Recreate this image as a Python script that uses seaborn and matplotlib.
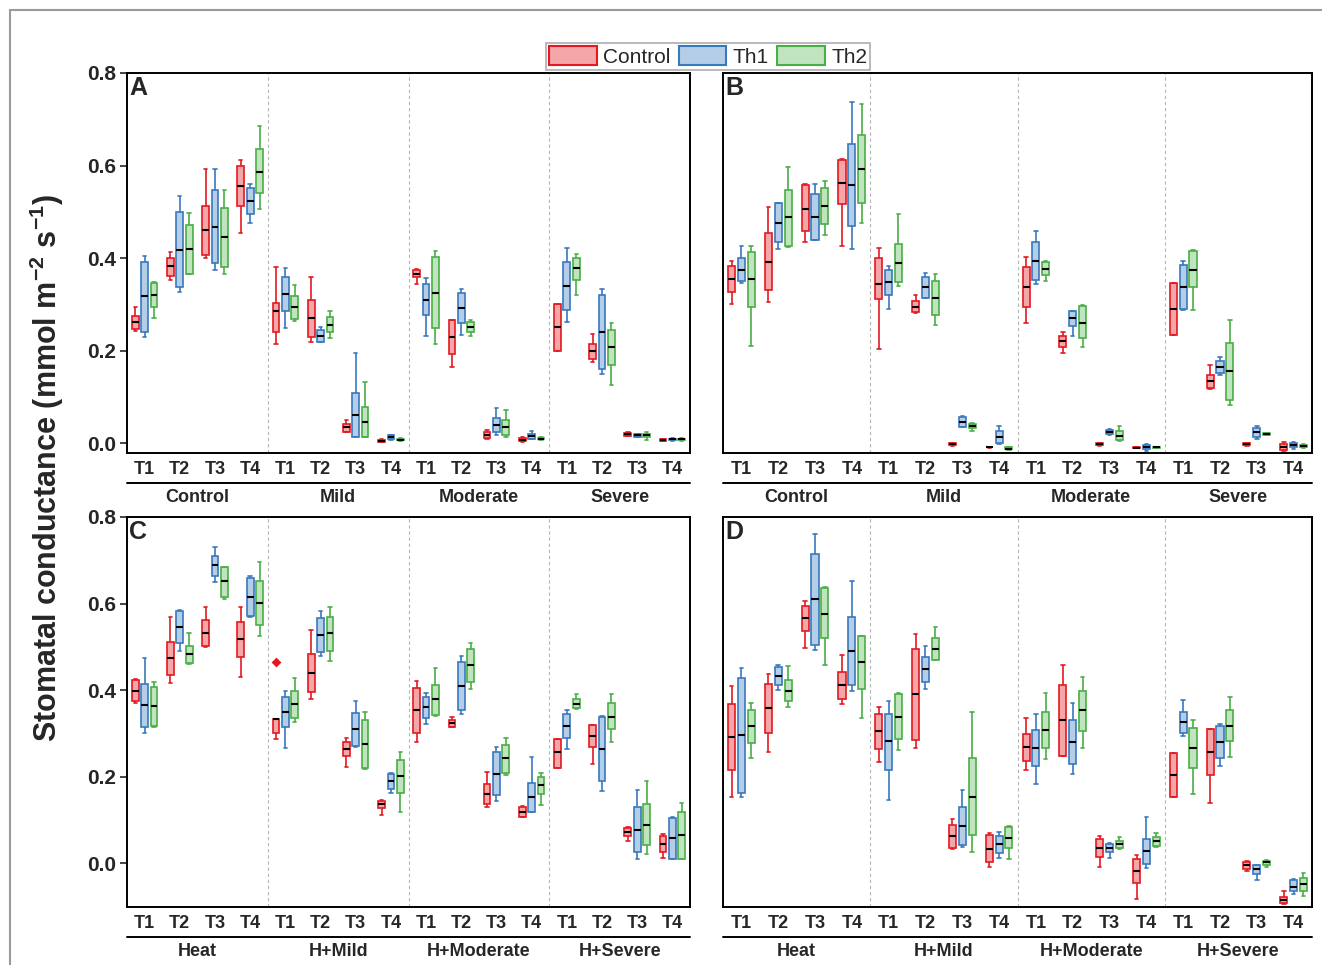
import numpy as np
import pandas as pd
import matplotlib
matplotlib.use("Agg")
import matplotlib.pyplot as plt
from matplotlib import transforms
from matplotlib.patches import Patch, Rectangle
import seaborn as sns

sns.set_theme(style="white")
plt.rcParams["font.family"] = ["Liberation Sans", "DejaVu Sans"]
plt.rcParams["mathtext.fontset"] = "custom"
plt.rcParams["mathtext.rm"] = "Liberation Sans:bold"
plt.rcParams["mathtext.bf"] = "Liberation Sans:bold"
plt.rcParams["mathtext.default"] = "bf"

# ---------------------------------------------------------------- categories
stress_top = ["Control", "Mild", "Moderate", "Severe"]
stress_bottom = ["Heat", "H+Mild", "H+Moderate", "H+Severe"]
times = ["T1", "T2", "T3", "T4"]
series = ["Control", "Th1", "Th2"]

edge_colors = {"Control": "#E4191F", "Th1": "#3878BD", "Th2": "#4AAE47"}
fill_colors = {"Control": "#F4A6A8", "Th1": "#B5CEE7", "Th2": "#C0E4BD"}

# --------------------------------------------------------- box summaries
# each row: [lower whisker, Q1, median, Q3, upper whisker]
# rows follow stress level (4) x sampling time (T1..T4)
gs_A_control = [
    [0.243, 0.246, 0.261, 0.274, 0.293], [0.353, 0.362, 0.382, 0.400, 0.412],
    [0.399, 0.406, 0.461, 0.513, 0.592], [0.454, 0.512, 0.556, 0.600, 0.612],
    [0.213, 0.239, 0.285, 0.303, 0.380], [0.218, 0.229, 0.270, 0.310, 0.359],
    [0.023, 0.024, 0.035, 0.042, 0.050], [0.002, 0.003, 0.005, 0.007, 0.009],
    [0.344, 0.359, 0.366, 0.373, 0.376], [0.164, 0.192, 0.229, 0.265, 0.267],
    [0.009, 0.011, 0.018, 0.023, 0.029], [0.003, 0.004, 0.007, 0.010, 0.014],
    [0.200, 0.200, 0.250, 0.301, 0.301], [0.176, 0.182, 0.198, 0.215, 0.236],
    [0.015, 0.016, 0.019, 0.022, 0.024], [0.004, 0.004, 0.006, 0.009, 0.009],
]
gs_A_th1 = [
    [0.229, 0.241, 0.317, 0.391, 0.405], [0.326, 0.337, 0.418, 0.500, 0.533],
    [0.373, 0.389, 0.468, 0.546, 0.593], [0.476, 0.495, 0.523, 0.551, 0.560],
    [0.249, 0.285, 0.323, 0.360, 0.378], [0.218, 0.218, 0.232, 0.244, 0.250],
    [0.013, 0.014, 0.061, 0.108, 0.195], [0.007, 0.009, 0.013, 0.017, 0.018],
    [0.232, 0.277, 0.310, 0.344, 0.357], [0.234, 0.259, 0.291, 0.324, 0.332],
    [0.018, 0.023, 0.039, 0.054, 0.075], [0.009, 0.009, 0.016, 0.020, 0.025],
    [0.261, 0.288, 0.340, 0.391, 0.422], [0.150, 0.160, 0.241, 0.321, 0.334],
    [0.014, 0.014, 0.017, 0.019, 0.019], [0.005, 0.006, 0.008, 0.009, 0.010],
]
gs_A_th2 = [
    [0.270, 0.293, 0.321, 0.346, 0.348], [0.366, 0.366, 0.419, 0.471, 0.497],
    [0.366, 0.381, 0.445, 0.508, 0.546], [0.506, 0.541, 0.587, 0.635, 0.685],
    [0.264, 0.269, 0.294, 0.318, 0.342], [0.226, 0.240, 0.256, 0.272, 0.285],
    [0.013, 0.014, 0.045, 0.078, 0.131], [0.005, 0.006, 0.007, 0.009, 0.010],
    [0.213, 0.249, 0.324, 0.402, 0.415], [0.231, 0.240, 0.251, 0.262, 0.265],
    [0.014, 0.018, 0.035, 0.050, 0.071], [0.007, 0.008, 0.009, 0.011, 0.012],
    [0.319, 0.353, 0.378, 0.401, 0.409], [0.126, 0.169, 0.207, 0.244, 0.259],
    [0.006, 0.012, 0.017, 0.020, 0.023], [0.005, 0.006, 0.008, 0.009, 0.010],
]

gs_B_control = [
    [0.300, 0.327, 0.355, 0.383, 0.394], [0.304, 0.331, 0.392, 0.453, 0.510],
    [0.434, 0.458, 0.507, 0.558, 0.561], [0.426, 0.516, 0.563, 0.612, 0.614],
    [0.203, 0.311, 0.344, 0.401, 0.422], [0.282, 0.284, 0.295, 0.306, 0.321],
    [-0.006, -0.005, -0.003, 0.000, 0.001], [-0.010, -0.009, -0.009, -0.008, -0.008],
    [0.260, 0.293, 0.338, 0.381, 0.403], [0.194, 0.208, 0.221, 0.232, 0.240],
    [-0.006, -0.005, -0.003, 0.000, 0.001], [-0.011, -0.010, -0.010, -0.009, -0.009],
    [0.233, 0.233, 0.290, 0.347, 0.347], [0.117, 0.118, 0.134, 0.148, 0.169],
    [-0.006, -0.005, -0.003, -0.001, -0.001], [-0.017, -0.015, -0.009, -0.002, 0.003],
]
gs_B_th1 = [
    [0.345, 0.350, 0.375, 0.399, 0.425], [0.419, 0.434, 0.476, 0.518, 0.520],
    [0.439, 0.440, 0.489, 0.538, 0.560], [0.419, 0.470, 0.558, 0.647, 0.737],
    [0.289, 0.321, 0.348, 0.374, 0.383], [0.313, 0.314, 0.337, 0.360, 0.367],
    [0.034, 0.035, 0.046, 0.057, 0.059], [-0.002, -0.001, 0.012, 0.025, 0.037],
    [0.343, 0.352, 0.394, 0.435, 0.459], [0.232, 0.252, 0.270, 0.286, 0.286],
    [0.017, 0.019, 0.024, 0.028, 0.030], [-0.017, -0.012, -0.008, -0.004, -0.002],
    [0.288, 0.290, 0.338, 0.385, 0.394], [0.148, 0.151, 0.165, 0.178, 0.185],
    [0.009, 0.014, 0.024, 0.032, 0.037], [-0.013, -0.008, -0.004, -0.001, 0.003],
]
gs_B_th2 = [
    [0.210, 0.295, 0.355, 0.412, 0.427], [0.423, 0.425, 0.488, 0.548, 0.597],
    [0.450, 0.473, 0.512, 0.552, 0.567], [0.476, 0.520, 0.593, 0.666, 0.734],
    [0.339, 0.349, 0.390, 0.430, 0.495], [0.255, 0.277, 0.314, 0.351, 0.365],
    [0.027, 0.032, 0.037, 0.041, 0.043], [-0.015, -0.014, -0.012, -0.009, -0.009],
    [0.351, 0.363, 0.377, 0.391, 0.393], [0.208, 0.226, 0.260, 0.297, 0.298],
    [0.005, 0.006, 0.015, 0.025, 0.037], [-0.011, -0.011, -0.009, -0.008, -0.008],
    [0.288, 0.337, 0.375, 0.416, 0.417], [0.082, 0.094, 0.156, 0.217, 0.266],
    [0.017, 0.017, 0.019, 0.021, 0.021], [-0.011, -0.009, -0.006, -0.004, -0.002],
]

gs_C_control = [
    [0.371, 0.375, 0.399, 0.423, 0.426], [0.417, 0.435, 0.474, 0.512, 0.568],
    [0.499, 0.503, 0.533, 0.562, 0.591], [0.431, 0.476, 0.517, 0.558, 0.593],
    [0.287, 0.302, 0.334, 0.334, 0.334], [0.380, 0.395, 0.439, 0.483, 0.539],
    [0.223, 0.247, 0.265, 0.281, 0.290], [0.112, 0.127, 0.136, 0.144, 0.147],
    [0.281, 0.302, 0.353, 0.405, 0.422], [0.314, 0.316, 0.323, 0.331, 0.337],
    [0.129, 0.137, 0.160, 0.184, 0.212], [0.106, 0.108, 0.119, 0.131, 0.133],
    [0.221, 0.221, 0.256, 0.288, 0.288], [0.229, 0.269, 0.295, 0.320, 0.320],
    [0.052, 0.062, 0.072, 0.081, 0.083], [0.012, 0.025, 0.044, 0.062, 0.067],
]
gs_C_th1 = [
    [0.302, 0.316, 0.366, 0.415, 0.475], [0.491, 0.510, 0.547, 0.583, 0.585],
    [0.650, 0.664, 0.688, 0.711, 0.731], [0.570, 0.572, 0.616, 0.658, 0.664],
    [0.267, 0.315, 0.350, 0.385, 0.399], [0.479, 0.488, 0.527, 0.566, 0.583],
    [0.269, 0.270, 0.310, 0.348, 0.375], [0.163, 0.172, 0.189, 0.206, 0.209],
    [0.322, 0.336, 0.360, 0.383, 0.394], [0.346, 0.354, 0.410, 0.464, 0.479],
    [0.145, 0.157, 0.206, 0.256, 0.268], [0.118, 0.119, 0.154, 0.186, 0.246],
    [0.263, 0.290, 0.317, 0.344, 0.353], [0.168, 0.191, 0.265, 0.339, 0.340],
    [0.011, 0.025, 0.077, 0.129, 0.169], [0.010, 0.010, 0.058, 0.105, 0.108],
]
gs_C_th2 = [
    [0.316, 0.317, 0.363, 0.407, 0.419], [0.460, 0.462, 0.484, 0.503, 0.531],
    [0.611, 0.616, 0.651, 0.685, 0.685], [0.525, 0.551, 0.602, 0.653, 0.695],
    [0.327, 0.336, 0.368, 0.399, 0.429], [0.468, 0.491, 0.531, 0.570, 0.591],
    [0.218, 0.219, 0.276, 0.331, 0.349], [0.119, 0.163, 0.202, 0.238, 0.256],
    [0.341, 0.343, 0.379, 0.412, 0.450], [0.403, 0.418, 0.457, 0.496, 0.510],
    [0.203, 0.209, 0.243, 0.274, 0.290], [0.134, 0.160, 0.180, 0.200, 0.208],
    [0.356, 0.358, 0.369, 0.380, 0.390], [0.280, 0.310, 0.339, 0.370, 0.392],
    [0.021, 0.042, 0.089, 0.136, 0.189], [0.010, 0.010, 0.065, 0.119, 0.139],
]
# single outlying measurement: (stress level, time, series, value)
C_outlier = ("H+Mild", "T1", "Control", 0.465)

gs_D_control = [
    [0.152, 0.216, 0.291, 0.367, 0.410], [0.256, 0.300, 0.358, 0.415, 0.437],
    [0.497, 0.537, 0.567, 0.595, 0.607], [0.367, 0.380, 0.412, 0.443, 0.481],
    [0.234, 0.263, 0.305, 0.346, 0.361], [0.266, 0.285, 0.390, 0.494, 0.530],
    [0.033, 0.035, 0.062, 0.089, 0.103], [-0.008, 0.002, 0.033, 0.065, 0.069],
    [0.216, 0.237, 0.268, 0.298, 0.335], [0.249, 0.249, 0.331, 0.413, 0.457],
    [-0.008, 0.015, 0.036, 0.055, 0.062], [-0.082, -0.046, -0.018, 0.009, 0.018],
    [0.152, 0.152, 0.204, 0.254, 0.254], [0.140, 0.203, 0.256, 0.310, 0.311],
    [-0.018, -0.014, -0.005, 0.003, 0.005], [-0.095, -0.092, -0.084, -0.077, -0.065],
]
gs_D_th1 = [
    [0.152, 0.162, 0.296, 0.427, 0.452], [0.400, 0.412, 0.433, 0.454, 0.458],
    [0.493, 0.504, 0.610, 0.715, 0.761], [0.397, 0.413, 0.491, 0.570, 0.653],
    [0.146, 0.216, 0.282, 0.346, 0.374], [0.403, 0.419, 0.448, 0.476, 0.503],
    [0.038, 0.042, 0.086, 0.129, 0.169], [0.012, 0.023, 0.044, 0.064, 0.073],
    [0.183, 0.224, 0.266, 0.308, 0.345], [0.206, 0.229, 0.280, 0.331, 0.370],
    [0.013, 0.025, 0.035, 0.044, 0.046], [-0.010, -0.002, 0.028, 0.056, 0.108],
    [0.295, 0.300, 0.326, 0.350, 0.377], [0.225, 0.243, 0.280, 0.318, 0.322],
    [-0.038, -0.025, -0.014, -0.005, -0.003], [-0.072, -0.065, -0.054, -0.038, -0.036],
]
gs_D_th2 = [
    [0.243, 0.279, 0.317, 0.354, 0.370], [0.361, 0.374, 0.399, 0.423, 0.456],
    [0.458, 0.521, 0.577, 0.635, 0.638], [0.335, 0.402, 0.464, 0.525, 0.525],
    [0.262, 0.286, 0.337, 0.391, 0.394], [0.469, 0.470, 0.496, 0.520, 0.546],
    [0.027, 0.065, 0.154, 0.244, 0.350], [0.010, 0.035, 0.059, 0.083, 0.085],
    [0.240, 0.267, 0.308, 0.349, 0.394], [0.267, 0.306, 0.353, 0.399, 0.430],
    [0.033, 0.035, 0.044, 0.052, 0.060], [0.038, 0.040, 0.052, 0.060, 0.071],
    [0.159, 0.221, 0.267, 0.313, 0.330], [0.245, 0.283, 0.318, 0.354, 0.385],
    [-0.008, -0.004, 0.002, 0.006, 0.008], [-0.075, -0.064, -0.049, -0.033, -0.023],
]

yticks = [0.0, 0.2, 0.4, 0.6, 0.8]


def slot_order(groups):
    return [f"{g}\n{t}" for g in groups for t in times]


def long_frame(groups, by_series):
    rows = []
    order = slot_order(groups)
    for s, boxes in by_series.items():
        for slot, five in zip(order, boxes):
            for v in five:
                rows.append((slot, s, v))
    return pd.DataFrame(rows, columns=["slot", "series", "gs"])


W, H = 1322, 965
fig = plt.figure(figsize=(W / 100, H / 100), dpi=100)


def px_axes(left, top, right, bottom):
    return fig.add_axes([left / W, 1 - bottom / H, (right - left) / W, (bottom - top) / H])


def draw_panel(ax, groups, by_series, letter, ylim, show_y, outlier=None):
    order = slot_order(groups)
    df = long_frame(groups, by_series)
    for s in series:
        sns.boxplot(
            data=df[df["series"] == s], x="slot", y="gs", hue="series",
            order=order, hue_order=series, palette=fill_colors, dodge=True,
            linecolor=edge_colors[s], saturation=1, width=0.8, gap=0.28,
            whis=(0, 100), linewidth=1.2,
            medianprops=dict(color="black", linewidth=1.5),
            legend=False, ax=ax, zorder=2,
        )
    if outlier is not None:
        g, t, s, v = outlier
        odf = pd.DataFrame({"slot": [f"{g}\n{t}"], "series": [s], "gs": [v]})
        sns.stripplot(
            data=odf, x="slot", y="gs", hue="series", order=order,
            hue_order=series, palette=edge_colors, dodge=True, jitter=False,
            marker="D", size=5, linewidth=0, legend=False, ax=ax, zorder=3,
        )

    ax.set_xlim(-0.5, 15.5)
    ax.set_ylim(*ylim)
    ax.set_xlabel("")
    ax.set_ylabel("")
    ax.set_xticks(range(16))
    ax.set_xticklabels(times * 4)
    ax.tick_params(axis="x", length=0, pad=6, labelsize=13)
    for lbl in ax.get_xticklabels():
        lbl.set_fontweight("bold")
    if show_y:
        ax.set_yticks(yticks)
        ax.set_yticklabels([f"{v:.1f}" for v in yticks])
        ax.tick_params(axis="y", left=True, direction="out", length=5,
                       width=1.2, pad=3, labelsize=15)
        for lbl in ax.get_yticklabels():
            lbl.set_fontweight("bold")
    else:
        ax.set_yticks([])

    for sp in ax.spines.values():
        sp.set_visible(True)
        sp.set_color("black")
        sp.set_linewidth(1.4)

    for xs in (3.5, 7.5, 11.5):
        ax.axvline(xs, color="#b5b5b5", linewidth=0.8, linestyle=(0, (3, 2.5)), zorder=0.5)

    ax.text(0.004, 0.992, letter, transform=ax.transAxes, ha="left", va="top",
            fontsize=18, fontweight="bold")

    # stress-level bracket beneath the time labels
    line_tr = ax.transAxes + transforms.ScaledTranslation(0, -0.30, fig.dpi_scale_trans)
    ax.plot([0, 1], [0, 0], transform=line_tr, color="black", linewidth=1.4, clip_on=False)
    lab_tr = transforms.blended_transform_factory(ax.transData, ax.transAxes) + \
        transforms.ScaledTranslation(0, -0.45, fig.dpi_scale_trans)
    for k, g in enumerate(groups):
        ax.text(4 * k + 1.5, 0, g, transform=lab_tr, ha="center", va="center",
                fontsize=13, fontweight="bold")


ylim_top = (-0.0216, 0.8)
ylim_bottom = (-0.101, 0.8)

axA = px_axes(127, 73, 690, 453)
axB = px_axes(723, 73, 1312, 453)
axC = px_axes(127, 517, 690, 907)
axD = px_axes(723, 517, 1312, 907)

draw_panel(axA, stress_top, {"Control": gs_A_control, "Th1": gs_A_th1, "Th2": gs_A_th2},
           "A", ylim_top, True)
draw_panel(axB, stress_top, {"Control": gs_B_control, "Th1": gs_B_th1, "Th2": gs_B_th2},
           "B", ylim_top, False)
draw_panel(axC, stress_bottom, {"Control": gs_C_control, "Th1": gs_C_th1, "Th2": gs_C_th2},
           "C", ylim_bottom, True, outlier=C_outlier)
draw_panel(axD, stress_bottom, {"Control": gs_D_control, "Th1": gs_D_th1, "Th2": gs_D_th2},
           "D", ylim_bottom, False)

# shared legend
handles = [Patch(facecolor=fill_colors[s], edgecolor=edge_colors[s], linewidth=1.5, label=s)
           for s in series]
leg = fig.legend(handles=handles, loc="center", bbox_to_anchor=(708 / W, 1 - 56.5 / H),
                 ncol=3, fontsize=15, frameon=True, fancybox=False, handlelength=2.3,
                 handleheight=1.05, handletextpad=0.3, columnspacing=0.4,
                 borderpad=0.15, borderaxespad=0)
leg.get_frame().set_edgecolor("#9a9a9a")
leg.get_frame().set_linewidth(1.2)

fig.text(47 / W, 1 - 468 / H, r"Stomatal conductance (mmol m$^{-2}$ s$^{-1}$)",
         rotation=90, ha="center", va="center", fontsize=22, fontweight="bold")

# outer frame
fig.add_artist(Rectangle((10 / W, -0.05), 1.2, 1 - 10 / H + 0.05, transform=fig.transFigure,
                         fill=False, edgecolor="#9a9a9a", linewidth=1.5))

fig.savefig("out.png", dpi=100)
